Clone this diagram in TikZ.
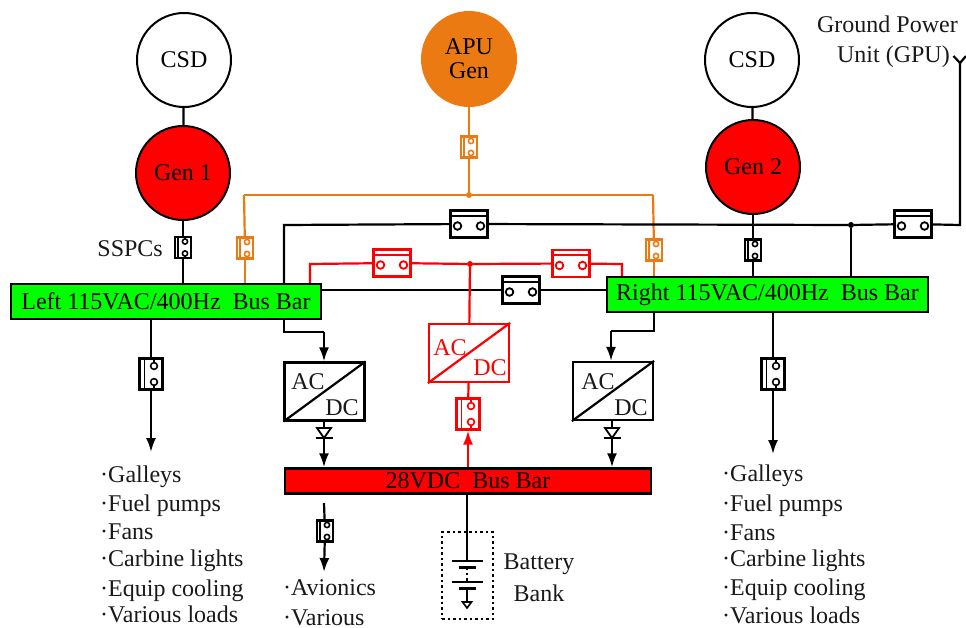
\documentclass[tikz,border=0pt]{standalone}
\usepackage{fontspec}
\setmainfont{Liberation Serif}
\usetikzlibrary{arrows.meta,calc}
\definecolor{aorange}{HTML}{EC7A12}
\tikzset{
  x=1pt,y=-1pt,
  wire/.style={line width=2.2pt,line join=miter},
  tip/.style={-{Latex[length=14pt,width=10pt]}},
  lbl/.style={inner sep=0pt,font=\fontsize{24}{24}\selectfont,text=black!90},
  circ/.style={circle,draw=black,line width=2pt,fill=white,minimum size=94pt,inner sep=0pt,font=\fontsize{24}{24}\selectfont,align=center},
  gen/.style={circ,fill=red},
  bus/.style={rectangle,draw=black,line width=2.4pt,inner sep=0pt,font=\fontsize{24}{24}\selectfont},
  conv/.style={rectangle,draw=black,line width=2.2pt,fill=white,inner sep=0pt,minimum width=80pt,minimum height=58pt},
  hbrk/.style={rectangle,draw=#1,line width=2.2pt,fill=white,inner sep=0pt,minimum width=37pt,minimum height=27pt},
  vbrk/.style={rectangle,draw=#1,line width=2.2pt,fill=white,inner sep=0pt,minimum width=16pt,minimum height=21pt},
  wbrk/.style={rectangle,draw=#1,line width=2.2pt,fill=white,inner sep=0pt,minimum width=23pt,minimum height=31pt},
  dotn/.style={circle,fill=#1,inner sep=0pt,minimum size=6pt},
}
% horizontal breaker: name, colour, x, y
\newcommand{\HBrk}[4]{%
  \node[hbrk=#2] (#1) at (#3,#4) {};
  \draw[#2,line width=2pt] ($(#1.north west)+(0,6.5)$) -- ($(#1.north east)+(0,6.5)$);
  \draw[#2,line width=1.8pt,fill=white] ($(#1.center)+(-11.5,2)$) circle[radius=3.8];
  \draw[#2,line width=1.8pt,fill=white] ($(#1.center)+(11.5,2)$) circle[radius=3.8];
}
% vertical breaker: name, colour, x, y, style, spacing, radius, barpos
\newcommand{\VBrk}[8]{%
  \node[#5=#2] (#1) at (#3,#4) {};
  \draw[#2,line width=1.8pt] ($(#1.north west)+(#8,0)$) -- ($(#1.south west)+(#8,0)$);
  \draw[#2,line width=1.6pt] ($(#1.north)+(#8*0.5,0)$) -- ($(#1.center)+(#8*0.5,-#6)$);
  \draw[#2,line width=1.6pt] ($(#1.south)+(#8*0.5,0)$) -- ($(#1.center)+(#8*0.5,#6)$);
  \draw[#2,line width=1.6pt,fill=white] ($(#1.center)+(#8*0.5,-#6)$) circle[radius=#7];
  \draw[#2,line width=1.6pt,fill=white] ($(#1.center)+(#8*0.5,#6)$) circle[radius=#7];
}
% AC/DC converter slash and labels: name, colour
\newcommand{\ConvIn}[2]{%
  \draw[#2,line width=2.2pt] (#1.south west) -- (#1.north east);
}
\begin{document}
\begin{tikzpicture}
\useasboundingbox (0,0) rectangle (966,628);
% sources
\node[circ] (csdA) at (184,60) {CSD};
\node[gen] (genA) at (183,173) {Gen 1};
\node[circ,fill=aorange,draw=aorange] (apu) at (469,59) {APU\\Gen};
\node[circ] (csdB) at (752,60) {CSD};
\node[gen] (genB) at (753,167) {Gen 2};
% buses
\node[bus,fill=green,minimum width=310pt,minimum height=35pt] (lbus) at (166,301.5) {Left 115VAC/400Hz\ \ Bus Bar};
\node[bus,fill=green,minimum width=321pt,minimum height=35pt] (rbus) at (767.5,294.5) {Right 115VAC/400Hz\ \ Bus Bar};
\node[bus,fill=red,minimum width=366pt,minimum height=25pt] (dcbus) at (468,481) {28VDC\ \ Bus Bar};
% converters
\node[conv] (convA) at (324.5,391.5) {};
\node[conv] (convB) at (613,391) {};
\node[conv,draw=red] (convR) at (469,353) {};
\ConvIn{convA}{black}
\ConvIn{convB}{black}
\ConvIn{convR}{red}
\node[lbl] (acA) at (308,382) {AC};
\node[lbl] (dcA) at (342,408) {DC};
\node[lbl] (acB) at (598,382) {AC};
\node[lbl] (dcB) at (631,408) {DC};
\node[lbl,text=red] (acR) at (450,348) {AC};
\node[lbl,text=red] (dcR) at (490,368) {DC};
% junctions
\node[dotn=aorange] (jo) at (469,195) {};
\node[dotn=red] (jr) at (470,264) {};
\node[dotn=black] (jb) at (851,225) {};
% free points
\coordinate (gpu) at (960,63);
\coordinate (gpuL) at (953.5,56);
\coordinate (gpuR) at (966,56);
\coordinate (lA) at (244,195);
\coordinate (lB) at (653,195);
\coordinate (bT) at (284,225);
\coordinate (bR) at (960,225);
\coordinate (rT1) at (310,264);
\coordinate (rT2) at (622,264);
\coordinate (lC1) at (284,332);
\coordinate (lC2) at (324,332);
\coordinate (rC1) at (654,331);
\coordinate (rC2) at (611,331);
\coordinate (lEnd) at (151,452);
\coordinate (rEnd) at (773,454);
\coordinate (avS) at (324,503);
\coordinate (avE) at (324,572);
% breakers
\VBrk{sA}{black}{183}{247.5}{vbrk}{6}{2.6}{4}
\VBrk{oC}{aorange}{469}{147}{vbrk}{6}{2.6}{4}
\VBrk{oL}{aorange}{245}{248}{vbrk}{6}{2.6}{4}
\VBrk{oR}{aorange}{654}{250}{vbrk}{6}{2.6}{4}
\VBrk{sB}{black}{753}{250}{vbrk}{6}{2.6}{4}
\VBrk{sAv}{black}{325}{531}{vbrk}{6}{2.6}{4}
\VBrk{loadL}{black}{151}{374}{wbrk}{8}{3.4}{6}
\VBrk{loadR}{black}{773}{374}{wbrk}{8}{3.4}{6}
\VBrk{rBrk}{red}{468}{414}{wbrk}{8}{3.4}{6}
\HBrk{bC}{black}{469}{224}
\HBrk{bG}{black}{913}{224}
\HBrk{bM}{black}{521}{290}
\HBrk{rA}{red}{392}{263}
\HBrk{rB}{red}{571}{263.5}
% orange wires
\begin{scope}[aorange,wire]
  \draw (apu) -- (oC);
  \draw (oC) -- (jo);
  \draw (lA) -- (jo) -- (lB);
  \draw (lA) -- (oL);
  \draw (oL) -- (lbus.north -| oL);
  \draw (lB) -- (oR);
  \draw (oR) -- (rbus.north -| oR);
\end{scope}
% black wires
\begin{scope}[black,wire]
  \draw (csdA) -- (genA);
  \draw (genA) -- (sA);
  \draw (sA) -- (lbus.north -| sA);
  \draw (csdB) -- (genB);
  \draw (genB) -- (sB);
  \draw (sB) -- (rbus.north -| sB);
  \draw (lbus.north -| bT) -- (bT) -- (bC);
  \draw (bC) -- (jb);
  \draw (jb) -- (bG);
  \draw (jb) -- (rbus.north -| jb);
  \draw (bG) -- (bR) -- (gpu);
  \draw (gpuL) -- (gpu) -- (gpuR);
  \draw (lbus.east |- bM) -- (bM);
  \draw (bM) -- (rbus.west |- bM);
  \draw (lbus.south -| lC1) -- (lC1) -- (lC2);
  \draw[tip] (lC2) -- (convA.north -| lC2);
  \draw (rbus.south -| rC1) -- (rC1) -- (rC2);
  \draw[tip] (rC2) -- (convB.north -| rC2);
  \draw (lbus.south -| loadL) -- (loadL);
  \draw[tip] (loadL) -- (lEnd);
  \draw (rbus.south -| loadR) -- (loadR);
  \draw[tip] (loadR) -- (rEnd);
  \draw (avS) -- (sAv);
  \draw[tip] (sAv) -- (avE);
\end{scope}
% red wires
\begin{scope}[red,wire]
  \draw (lbus.north -| rT1) -- (rT1) -- (rA);
  \draw (rA) -- (jr);
  \draw (jr) -- (rB);
  \draw (rB) -- (rT2) -- (rbus.north -| rT2);
  \draw (jr) -- (convR);
  \draw (convR) -- (rBrk);
  \draw[tip] (dcbus.north -| rBrk) -- (rBrk);
\end{scope}
% diodes
\coordinate (dAt) at (324,428);
\coordinate (dBt) at (612,428);
\foreach \d/\c in {dAt/convA,dBt/convB}{
  \draw[wire] (\c.south -| \d) -- (\d);
  \draw[line width=1.8pt] ($(\d)+(-7,0)$) -- ($(\d)+(7,0)$) -- ($(\d)+(0,10)$) -- cycle;
  \draw[line width=2.2pt] ($(\d)+(-8.5,10)$) -- ($(\d)+(8.5,10)$);
  \draw[wire,tip] ($(\d)+(0,10)$) -- (dcbus.north -| \d);
}
% battery
\node[rectangle,draw=black,line width=2.2pt,dash pattern=on 2.5pt off 3pt,minimum width=51pt,minimum height=87pt,inner sep=0pt] (bank) at (467.5,575.5) {};
\coordinate (p1) at (467,561);
\coordinate (p2) at (467,567);
\coordinate (p3) at (467,582);
\coordinate (p4) at (467,588);
\coordinate (p5) at (467,602);
\draw[wire] (dcbus.south -| p1) -- (p1);
\draw[wire] ($(p1)+(-15.5,0)$) -- ($(p1)+(15.5,0)$);
\draw[line width=3pt] ($(p2)+(-8.5,0)$) -- ($(p2)+(8.5,0)$);
\draw[line width=2pt,dash pattern=on 2.5pt off 3pt] (p2) -- (p3);
\draw[wire] ($(p3)+(-15.5,0)$) -- ($(p3)+(15.5,0)$);
\draw[line width=3pt] ($(p4)+(-8.5,0)$) -- ($(p4)+(8.5,0)$);
\draw[wire] (p4) -- (p5);
\draw[line width=1.6pt,fill=white] ($(p5)+(-4.5,0)$) -- ($(p5)+(4.5,0)$) -- ($(p5)+(0,6)$) -- cycle;
% labels
\node[lbl,anchor=base east] (sspc) at (163,257) {SSPCs};
\node[lbl,anchor=base east] (gp1) at (958,33) {Ground Power};
\node[lbl,anchor=base east] (gp2) at (950,63) {Unit (GPU)};
\node[lbl] (batt) at (539,564) {Battery};
\node[lbl] (bank2) at (539,593) {Bank};
\foreach \n/\t/\y in {a/Galleys/482,b/Fuel pumps/511,c/Fans/539,d/Carbine lights/566,e/Equip cooling/596,f/Various loads/622}{
  \node[lbl,anchor=base west] (L\n) at (100,\y) {·\t};
}
\foreach \n/\t/\y in {a/Galleys/481,b/Fuel pumps/511,c/Fans/540,d/Carbine lights/566,e/Equip cooling/595,f/Various loads/623}{
  \node[lbl,anchor=base west] (R\n) at (722,\y) {·\t};
}
\node[lbl,anchor=base west] (av1) at (283,595) {·Avionics};
\node[lbl,anchor=base west] (av2) at (283,625) {·Various};
\end{tikzpicture}
\end{document}
